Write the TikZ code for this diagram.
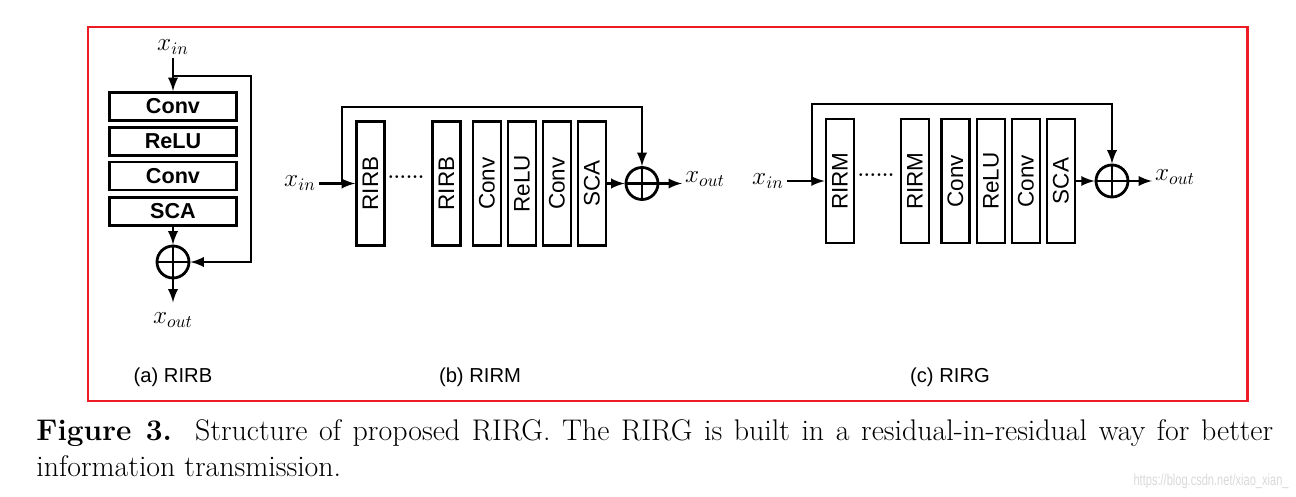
\documentclass[tikz,border=0pt]{standalone}
\usepackage{fontspec}
\usepackage{graphicx}
\newfontfamily\blockfont{Liberation Sans}
\usetikzlibrary{calc}
\definecolor{framered}{RGB}{237,28,36}

\begin{document}
\begin{tikzpicture}[x=0.02cm,y=-0.02cm,>=latex,
    line width=1.6pt,
    hbox/.style={draw,minimum width=2.54cm,minimum height=0.56cm,inner sep=0pt,
        font=\blockfont\bfseries\fontsize{12.3}{14}\selectfont},
    vbox/.style={draw,minimum width=0.56cm,minimum height=2.48cm,inner sep=0pt,
        font=\blockfont\fontsize{12.8}{14}\selectfont},
    sum/.style={draw,circle,minimum size=0.64cm,inner sep=0pt},
    sig/.style={font=\fontsize{14}{16}\selectfont,inner sep=1pt},
    sub/.style={font=\blockfont\fontsize{11.5}{13}\selectfont},
    dots/.style={font=\bfseries\fontsize{11}{12}\selectfont}]
    \useasboundingbox (0,0) rectangle (1296,497);
    \draw [framered,line width=1.7pt] (88,27) rectangle (1247,401);

    % (a) RIRB
    \node [sig] (ain) at (173,47) {$x_{in}$};
    \node [hbox] (a1) at (173,106.5) {Conv};
    \node [hbox] (a2) at (173,141.5) {ReLU};
    \node [hbox] (a3) at (173,176) {Conv};
    \node [hbox] (a4) at (173,211.5) {SCA};
    \node [sum] (as) at (173,262) {};
    \draw (as.north) -- (as.south) (as.west) -- (as.east);
    \node [sig] (aout) at (173,320) {$x_{out}$};
    \coordinate (asplit) at (173,76);
    \coordinate (aturn) at (251,262);
    \draw [->] (ain) -- (a1.north);
    \draw [->] (asplit) -| (aturn) -- (as.east);
    \draw [->] (a4.south) -- (as.north);
    \draw [->] (as.south) -- ([yshift=4pt]aout.north);

    % (b) RIRM
    \node [sig] (bin) at (300,183) {$x_{in}$};
    \node [vbox] (b1) at (370.5,183.5) {\rotatebox{90}{RIRB}};
    \node [dots] (bdots) at (406,177) {......};
    \node [vbox] (b2) at (446.5,183.5) {\rotatebox{90}{RIRB}};
    \node [vbox] (b3) at (487,183.5) {\rotatebox{90}{Conv}};
    \node [vbox] (b4) at (522,183.5) {\rotatebox{90}{ReLU}};
    \node [vbox] (b5) at (557,183.5) {\rotatebox{90}{Conv}};
    \node [vbox] (b6) at (592,183.5) {\rotatebox{90}{SCA}};
    \node [sum] (bs) at (642,183.5) {};
    \draw (bs.north) -- (bs.south) (bs.west) -- (bs.east);
    \node [sig] (bout) at (705,179) {$x_{out}$};
    \coordinate (bsplit) at (342,183.5);
    \coordinate (btop) at (642,107);
    \draw [->] (bin.east |- b1) -- (b1.west);
    \draw [->] (bsplit) |- (btop) -- (bs.north);
    \draw [->] (b6) -- (bs);
    \draw [->] (bs.east) -- (bout.west |- bs);

    % (c) RIRG
    \node [sig] (cin) at (768,181) {$x_{in}$};
    \node [vbox] (c1) at (840,181) {\rotatebox{90}{RIRM}};
    \node [dots] (cdots) at (876,175) {......};
    \node [vbox] (c2) at (915,181) {\rotatebox{90}{RIRM}};
    \node [vbox] (c3) at (955.5,181) {\rotatebox{90}{Conv}};
    \node [vbox] (c4) at (991,181) {\rotatebox{90}{ReLU}};
    \node [vbox] (c5) at (1026,181) {\rotatebox{90}{Conv}};
    \node [vbox] (c6) at (1061,181) {\rotatebox{90}{SCA}};
    \node [sum] (cs) at (1112,181) {};
    \draw (cs.north) -- (cs.south) (cs.west) -- (cs.east);
    \node [sig] (cout) at (1175,177) {$x_{out}$};
    \coordinate (csplit) at (812,181);
    \coordinate (ctop) at (1112,104);
    \draw [->] (cin.east |- c1) -- (c1.west);
    \draw [->] (csplit) |- (ctop) -- (cs.north);
    \draw [->] (c6) -- (cs);
    \draw [->] (cs.east) -- (cout.west |- cs);

    \node [sub] (alab) at (173,377) {(a) RIRB};
    \node [sub] (blab) at (480,377) {(b) RIRM};
    \node [sub] (clab) at (950,377) {(c) RIRG};

    \node [anchor=north west,text width=24.74cm,align=justify,inner sep=0pt,
        font=\fontsize{17}{20.5}\selectfont] (caption) at (35,418)
        {\textbf{Figure 3.}\ \ Structure of proposed RIRG. The RIRG is built in a
        residual-in-residual way for better\linebreak information transmission.};
    \node [anchor=east,text=black!15,inner sep=0pt] (mark) at (1290,481)
        {\scalebox{0.7}[1]{\blockfont\fontsize{9}{10}\selectfont https://blog.csdn.net/xiao\_xian\_}};
\end{tikzpicture}
\end{document}
